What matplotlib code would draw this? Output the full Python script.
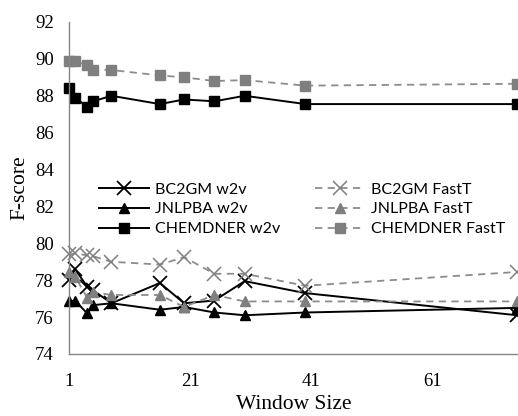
import matplotlib
matplotlib.use("Agg")
import matplotlib.pyplot as plt

# window sizes tried
window = [1, 2, 4, 5, 8, 16, 20, 25, 30, 40, 75]

bc2gm_w2v = [78.0, 78.6, 77.65, 77.45, 76.75, 77.85, 76.75, 76.9, 77.95, 77.3, 76.1]
jnlpba_w2v = [76.85, 76.9, 76.2, 76.65, 76.75, 76.4, 76.55, 76.25, 76.1, 76.25, 76.5]
chemdner_w2v = [88.4, 87.9, 87.4, 87.7, 88.0, 87.55, 87.8, 87.7, 88.0, 87.55, 87.55]

bc2gm_fast = [79.4, 79.45, 79.35, 79.3, 79.0, 78.85, 79.25, 78.35, 78.35, 77.7, 78.45]
jnlpba_fast = [78.45, 78.2, 77.05, 77.35, 77.2, 77.2, 76.55, 77.2, 76.85, 76.85, 76.85]
chemdner_fast = [89.9, 89.9, 89.65, 89.4, 89.4, 89.1, 89.0, 88.8, 88.85, 88.55, 88.65]

yticks = [74, 76, 78, 80, 82, 84, 86, 88, 90, 92]
xticks = [1, 21, 41, 61]

serif = "Liberation Serif"
sans = "Lato"
black = "#000000"
grey = "#7f7f7f"
dash_grey = "#8c8c8c"

fig = plt.figure(figsize=(5.18, 4.16), dpi=100)
ax = fig.add_axes([69/518, 62/416, 449/518, 332/416])

ax.plot(window, bc2gm_w2v, color=black, lw=1.4, marker="x", ms=10, mew=1.3,
        label="BC2GM w2v", clip_on=False)
ax.plot(window, jnlpba_w2v, color=black, lw=1.4, marker="^", ms=7.5,
        label="JNLPBA w2v", clip_on=False)
ax.plot(window, chemdner_w2v, color=black, lw=1.4, marker="s", ms=7,
        label="CHEMDNER w2v", clip_on=False)

ax.plot(window, bc2gm_fast, color=dash_grey, lw=1.3, ls=(0, (4, 3)), marker="x",
        ms=10, mew=1.1, mec=grey, label="BC2GM FastT", clip_on=False)
ax.plot(window, jnlpba_fast, color=dash_grey, lw=1.3, ls=(0, (4, 3)), marker="^",
        ms=7.5, mfc=grey, mec=grey, label="JNLPBA FastT", clip_on=False)
ax.plot(window, chemdner_fast, color=dash_grey, lw=1.3, ls=(0, (4, 3)), marker="s",
        ms=7, mfc=grey, mec=grey, label="CHEMDNER FastT", clip_on=False)

ax.set_xlim(1, 75.1)
ax.set_ylim(74, 92)
ax.set_xticks(xticks)
ax.set_yticks(yticks)
ax.tick_params(axis="y", length=0, pad=11, labelsize=13.5)
ax.tick_params(axis="x", length=0, pad=14, labelsize=13.5)
for lab in ax.get_xticklabels() + ax.get_yticklabels():
    lab.set_fontfamily(serif)

for s in ["top", "right"]:
    ax.spines[s].set_visible(False)
for s in ["left", "bottom"]:
    ax.spines[s].set_color("#868686")
    ax.spines[s].set_linewidth(1.0)

ax.set_xlabel("Window Size", fontfamily=serif, fontsize=15.5, labelpad=3)
ax.set_ylabel("F-score", fontfamily=serif, fontsize=15.5, labelpad=4)

leg = ax.legend(loc="upper left", bbox_to_anchor=(0.035, 0.56), ncol=2, frameon=False,
                prop={"family": sans, "size": 11.5}, handlelength=3.1,
                handletextpad=0.4, columnspacing=2.2, labelspacing=0.35)

fig.savefig("out.png", dpi=100)
